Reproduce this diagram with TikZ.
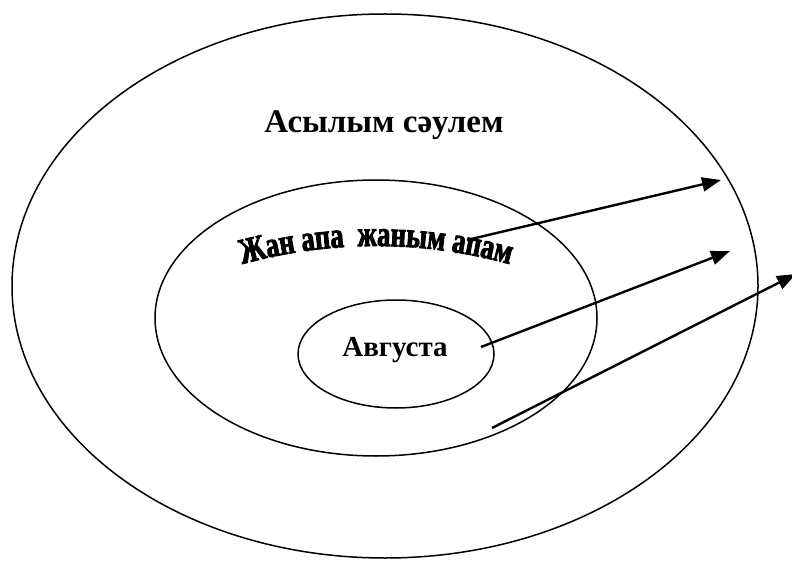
\documentclass[tikz,border=0pt]{standalone}
\usepackage{fontspec}
\setmainfont{Liberation Serif}
\newfontfamily\wafont[FakeStretch=0.74,FakeBold=2.5]{Liberation Serif Bold}
\usetikzlibrary{arrows.meta,decorations.text}
\tikzset{
  lbl/.style={font=\bfseries\fontsize{33}{36}\selectfont},
  arr/.style={line width=2.4pt,-{Triangle[length=19pt,width=14pt]}}
}
\begin{document}
\begin{tikzpicture}[x=1pt,y=-1pt]
\useasboundingbox (0,0) rectangle (792,561);
\fill[white] (0,0) rectangle (792,561);
% rings
\draw[line width=1.5pt] (385,286) ellipse [x radius=373,y radius=272];
\draw[line width=1.5pt] (376,318) ellipse [x radius=221,y radius=138];
\draw[line width=1.5pt] (396,354) ellipse [x radius=98,y radius=54];
% labels
\node[lbl,anchor=base] (t1) at (384,133) {Асылым сәулем};
\node[font=\bfseries\fontsize{29}{32}\selectfont,anchor=base] (t3) at (395,356) {Августа};
\path[decorate,decoration={text along path,
   text={|\wafont\fontsize{36}{38}\selectfont|Жан апа {} жаным апам},
   text align=center}]
  (246.6,263) arc[start angle=-105,end angle=-75,radius=500];
% arrows
\coordinate (s1) at (467,240);
\coordinate (e1) at (721,180);
\coordinate (s2) at (481,347);
\coordinate (e2) at (730,251);
\coordinate (s3) at (492,428);
\coordinate (e3) at (796,274);
\draw[arr] (s1) -- (e1);
\draw[arr] (s2) -- (e2);
\draw[arr] (s3) -- (e3);
\end{tikzpicture}
\end{document}
